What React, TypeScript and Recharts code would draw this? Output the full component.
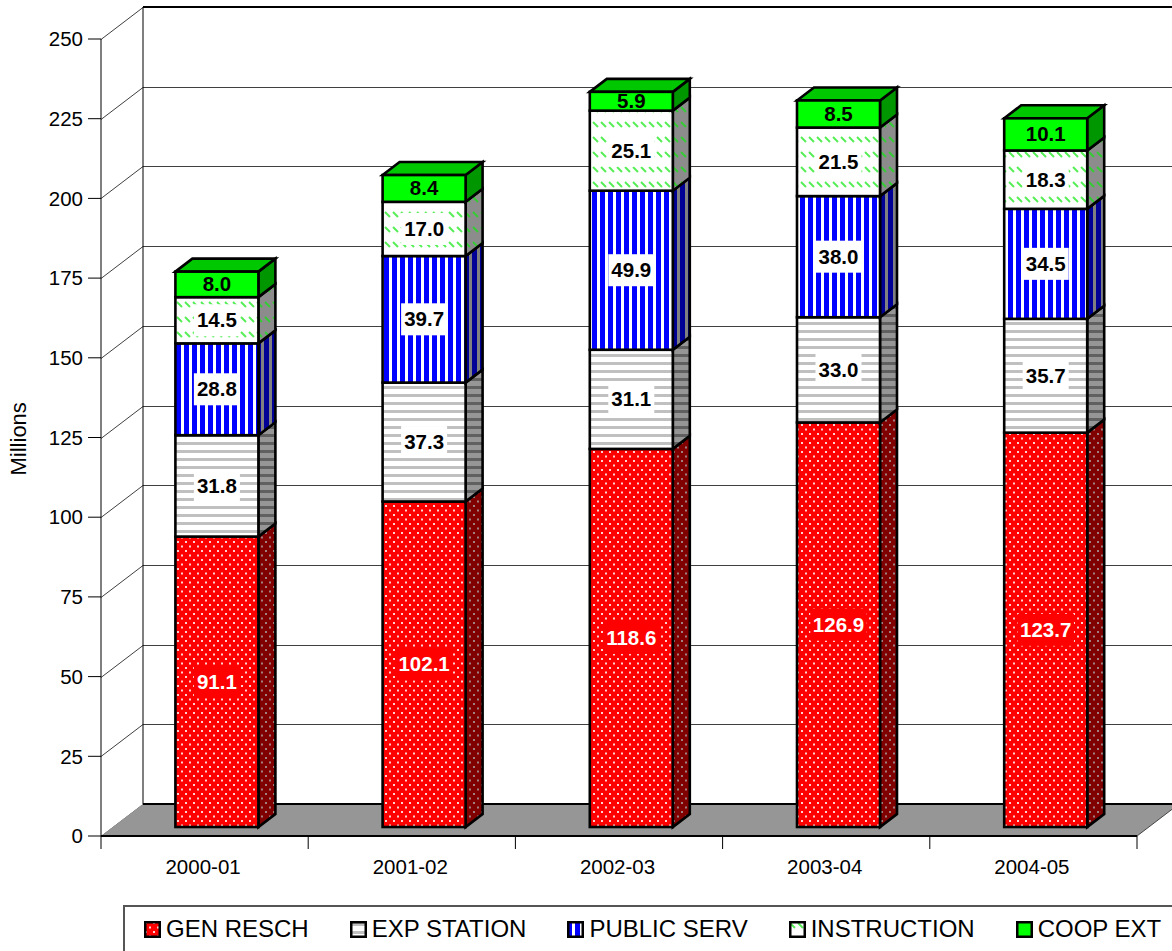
import React from 'react';
import { BarChart, Bar, XAxis, YAxis, CartesianGrid, Legend, LabelList } from 'recharts';

const categories = ['2000-01', '2001-02', '2002-03', '2003-04', '2004-05'];
const genResch = [91.1, 102.1, 118.6, 126.9, 123.7];
const expStation = [31.8, 37.3, 31.1, 33.0, 35.7];
const publicServ = [28.8, 39.7, 49.9, 38.0, 34.5];
const instruction = [14.5, 17.0, 25.1, 21.5, 18.3];
const coopExt = [8.0, 8.4, 5.9, 8.5, 10.1];
const yTicks = [0, 25, 50, 75, 100, 125, 150, 175, 200, 225, 250];

const data = categories.map((year, i) => ({
  year,
  genResch: genResch[i],
  expStation: expStation[i],
  publicServ: publicServ[i],
  instruction: instruction[i],
  coopExt: coopExt[i],
}));

const W = 1172;
const H = 951;
const margin = { top: 39, right: 35, bottom: 15, left: 0 };
const plotLeft = 101;
const plotBottom = 836;
const bandWidth = (W - margin.right - plotLeft) / categories.length;

// depth of the room, and where the bars stand inside it
const wallDx = 42;
const wallDy = 32;
const barDx = 12.4;
const barDy = 9;
const sideDx = 17;
const sideDy = 13;

const series = [
  { key: 'genResch', name: 'GEN RESCH', front: 'url(#dotsFront)', side: 'url(#dotsSide)', box: '#ff0000', text: '#fff' },
  { key: 'expStation', name: 'EXP STATION', front: 'url(#hFront)', side: 'url(#hSide)', box: '#fff', text: '#000' },
  { key: 'publicServ', name: 'PUBLIC SERV', front: 'url(#vFront)', side: 'url(#vSide)', box: '#fff', text: '#000' },
  { key: 'instruction', name: 'INSTRUCTION', front: 'url(#diagFront)', side: 'url(#diagSide)', box: '#fff', text: '#000' },
  { key: 'coopExt', name: 'COOP EXT', front: '#00ff00', side: '#009600', box: 'none', text: '#000' },
];

const Patterns = () => (
  <defs>
    <pattern id="dotsFront" width="8" height="9" patternUnits="userSpaceOnUse">
      <rect width="8" height="9" fill="#ff0000" />
      <rect x="1" y="1" width="2" height="2" fill="#ffd0d0" />
      <rect x="5" y="5.5" width="2" height="2" fill="#ffd0d0" />
    </pattern>
    <pattern id="dotsSide" width="8" height="9" patternUnits="userSpaceOnUse">
      <rect width="8" height="9" fill="#800000" />
      <rect x="1" y="1" width="2" height="2" fill="#a08080" />
      <rect x="5" y="5.5" width="2" height="2" fill="#a08080" />
    </pattern>
    <pattern id="hFront" width="8" height="8" patternUnits="userSpaceOnUse">
      <rect width="8" height="8" fill="#ffffff" />
      <rect y="2" width="8" height="3" fill="#c0c0c0" />
    </pattern>
    <pattern id="hSide" width="8" height="8" patternUnits="userSpaceOnUse">
      <rect width="8" height="8" fill="#969696" />
      <rect y="2" width="8" height="3" fill="#606060" />
    </pattern>
    <pattern id="vFront" width="8" height="8" patternUnits="userSpaceOnUse">
      <rect width="8" height="8" fill="#ffffff" />
      <rect width="5" height="8" fill="#0000ff" />
    </pattern>
    <pattern id="vSide" width="8" height="8" patternUnits="userSpaceOnUse">
      <rect width="8" height="8" fill="#808080" />
      <rect width="5" height="8" fill="#000096" />
    </pattern>
    <pattern id="diagFront" width="8" height="15" patternUnits="userSpaceOnUse">
      <rect width="8" height="15" fill="#ffffff" />
      <path d="M1 2L6 7" stroke="#55ee55" strokeWidth="2" />
    </pattern>
    <pattern id="diagSide" width="8" height="15" patternUnits="userSpaceOnUse">
      <rect width="8" height="15" fill="#8c8c8c" />
      <path d="M1 2L6 7" stroke="#33cc33" strokeWidth="2" />
    </pattern>
  </defs>
);

const Box3D = ({ x, y, width, height, front, side, isTop }: any) => {
  const fx = x + barDx;
  const fy = y - barDy;
  const rx = fx + width;
  return (
    <g stroke="#000" strokeWidth={2.6} strokeLinejoin="miter">
      <polygon
        points={`${rx},${fy} ${rx + sideDx},${fy - sideDy} ${rx + sideDx},${fy + height - sideDy} ${rx},${fy + height}`}
        fill={side}
      />
      {isTop && (
        <polygon
          points={`${fx},${fy} ${fx + sideDx},${fy - sideDy} ${rx + sideDx},${fy - sideDy} ${rx},${fy}`}
          fill="#00c800"
        />
      )}
      <rect x={fx} y={fy} width={width} height={height} fill={front} />
    </g>
  );
};

const ValueLabel = ({ x, y, width, height, value, box, text }: any) => {
  const cx = x + barDx + width / 2;
  const cy = y - barDy + height / 2;
  const label = Number(value).toFixed(1);
  const boxW = label.length * 10.5 + 4;
  return (
    <g>
      {box !== 'none' && <rect x={cx - boxW / 2} y={cy - 16} width={boxW} height={32} fill={box} />}
      <text x={cx} y={cy + 7} textAnchor="middle" fontSize={20.5} fontWeight="bold" fill={text}>
        {label}
      </text>
    </g>
  );
};

// floor and back wall of the 3D room
const Room = () => {
  const backX = plotLeft + wallDx;
  const backFloor = plotBottom - wallDy;
  const frontRight = W - margin.right;
  return (
    <g>
      <polygon
        points={`${plotLeft},${plotBottom} ${backX},${backFloor} ${frontRight + wallDx},${backFloor} ${frontRight},${plotBottom}`}
        fill="#969696"
      />
      <line x1={backX} y1={margin.top - wallDy} x2={backX} y2={backFloor} stroke="#000" />
      <line x1={backX} y1={margin.top - wallDy} x2={W} y2={margin.top - wallDy} stroke="#000" strokeWidth={2} />
      <line x1={backX} y1={backFloor} x2={W} y2={backFloor} stroke="#000" strokeWidth={2} />
      <line x1={frontRight} y1={plotBottom} x2={frontRight + wallDx} y2={backFloor} stroke="#444" />
    </g>
  );
};

const GridLine = ({ x1, y1 }: any) => {
  const y = Math.round(y1) + 0.5;
  return (
    <polyline
      points={`${x1},${y} ${x1 + wallDx},${y - wallDy} ${W},${y - wallDy}`}
      fill="none"
      stroke="#404040"
      strokeWidth={1}
    />
  );
};

const CategoryTick = ({ x, y, payload, index }: any) => (
  <g>
    <line x1={x - bandWidth / 2} y1={y} x2={x - bandWidth / 2} y2={y + 13} stroke="#000" />
    {index === categories.length - 1 && (
      <line x1={x + bandWidth / 2} y1={y} x2={x + bandWidth / 2} y2={y + 13} stroke="#000" />
    )}
    <text x={x - 1.5} y={y + 38} textAnchor="middle" fontSize={20.5} fill="#000">
      {payload.value}
    </text>
  </g>
);

const Swatch = ({ fill }: { fill: string }) => (
  <svg width={17} height={17} style={{ marginRight: 5, flex: 'none' }}>
    <rect x={1.25} y={1.25} width={14.5} height={14.5} fill={fill} stroke="#000" strokeWidth={2.5} />
  </svg>
);

const LegendBox = () => (
  <div
    style={{
      display: 'flex',
      alignItems: 'center',
      gap: 41,
      height: 60,
      boxSizing: 'border-box',
      paddingLeft: 19,
      paddingBottom: 12,
      border: '2px solid #555',
      background: '#fff',
      fontSize: 24,
      color: '#000',
      whiteSpace: 'nowrap',
    }}
  >
    {series.map((s) => (
      <div key={s.key} style={{ display: 'flex', alignItems: 'center' }}>
        <Swatch fill={s.front} />
        <span>{s.name}</span>
      </div>
    ))}
  </div>
);

export default function App() {
  return (
    <div
      style={{
        position: 'absolute',
        left: 0,
        top: 0,
        width: W,
        height: H,
        overflow: 'hidden',
        background: '#fff',
        fontFamily: '"Liberation Sans", Arial, sans-serif',
      }}
    >
      <BarChart width={W} height={H} data={data} margin={margin} barSize={83}>
        <Patterns />
        <Room />
        <CartesianGrid horizontal={(props: any) => <GridLine key={props.index} {...props} />} vertical={false} />
        <XAxis
          dataKey="year"
          height={40}
          tick={<CategoryTick />}
          tickLine={false}
          tickSize={0}
          tickMargin={0}
          axisLine={{ stroke: '#000', strokeWidth: 2 }}
          interval={0}
        />
        <YAxis
          domain={[0, 250]}
          ticks={yTicks}
          width={plotLeft}
          interval={0}
          tickSize={13}
          tickMargin={5}
          tick={{ fill: '#000', fontSize: 20.5 }}
          tickLine={{ stroke: '#000' }}
          axisLine={{ stroke: '#000' }}
          label={{ value: 'Millions', angle: -90, position: 'insideLeft', fontSize: 22, fill: '#000', dx: 13, dy: 38 }}
        />
        {series.map((s, i) => (
          <Bar
            key={s.key}
            dataKey={s.key}
            stackId="total"
            isAnimationActive={false}
            shape={(props: any) => (
              <Box3D {...props} front={s.front} side={s.side} isTop={i === series.length - 1} />
            )}
          >
            <LabelList dataKey={s.key} content={(props: any) => <ValueLabel {...props} box={s.box} text={s.text} />} />
          </Bar>
        ))}
        <Legend
          content={<LegendBox />}
          height={50}
          wrapperStyle={{ position: 'absolute', left: 123, top: 905, bottom: 'auto', width: 1100, height: 60 }}
        />
      </BarChart>
    </div>
  );
}
